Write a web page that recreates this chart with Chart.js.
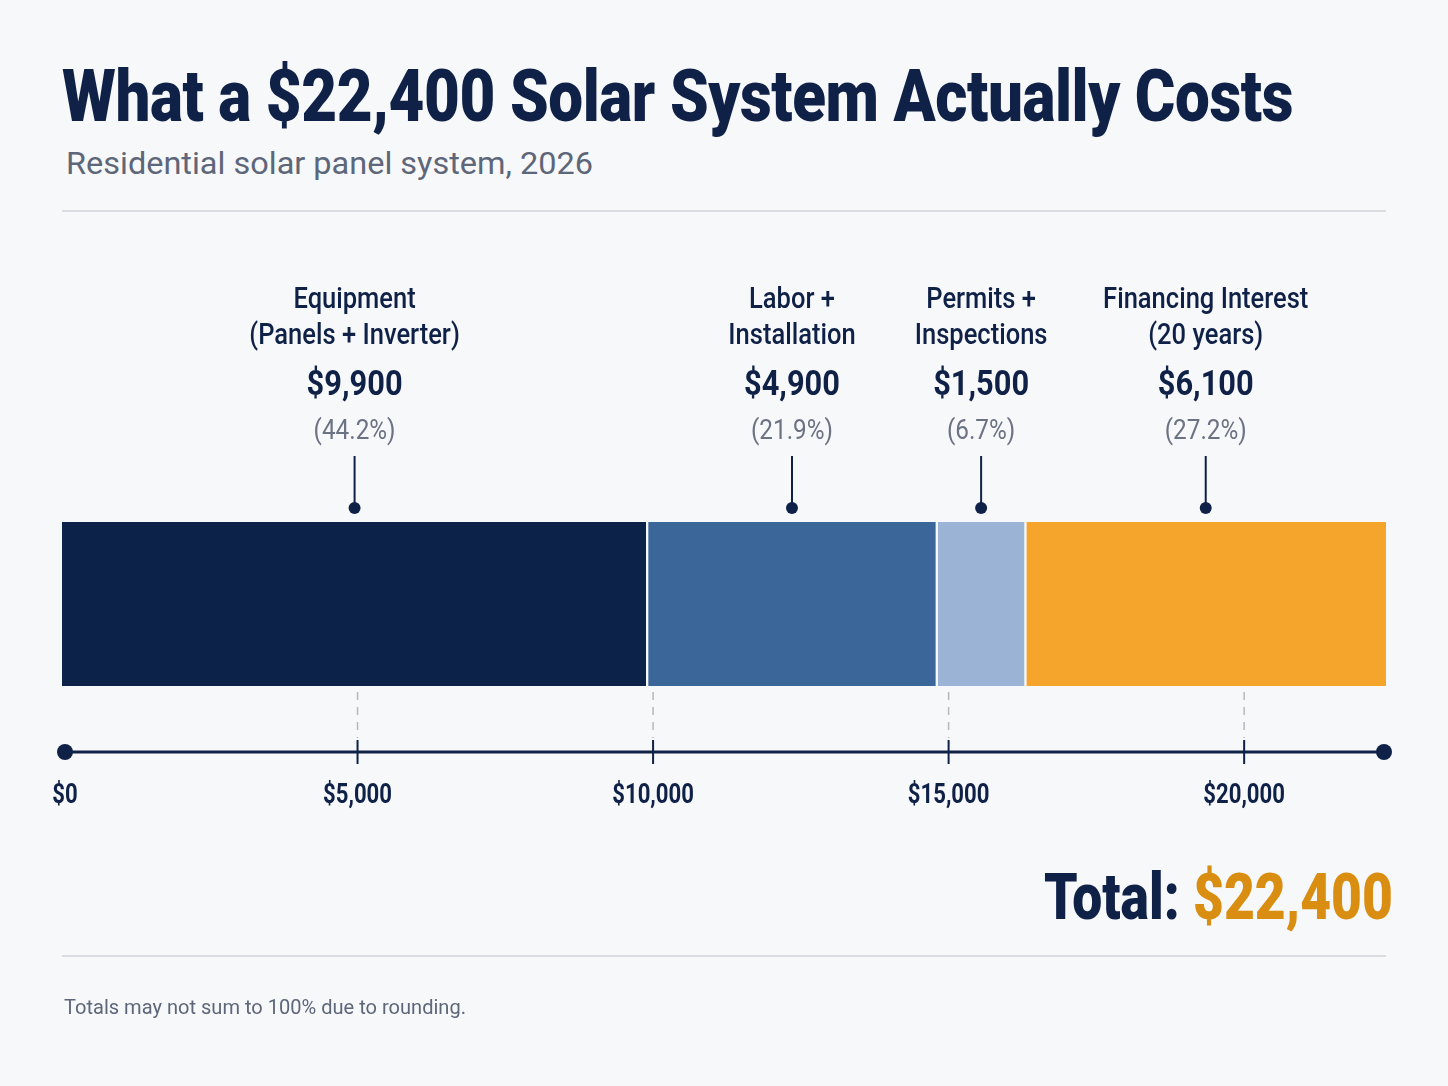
<!DOCTYPE html>
<html>
<head>
<meta charset="utf-8">
<script src="https://cdn.jsdelivr.net/npm/chart.js@4.4.1/dist/chart.umd.min.js"></script>
<style>
  html, body { margin: 0; padding: 0; }
  body {
    width: 1448px; height: 1086px; position: relative; overflow: hidden;
    background: #f7f8fa; font-family: Roboto, "Noto Sans", sans-serif;
  }
  #chartBox { position: absolute; left: 0; top: 0; width: 1448px; height: 1086px; }
  .fit { position: absolute; white-space: nowrap; transform-origin: left top; }
  #title { left: 62px; top: 61px; font-size: 72px; font-weight: 900; color: #0f2147; line-height: 1; letter-spacing: -0.5px; }
  #subtitle { left: 66px; top: 145px; font-size: 31px; color: #5e6679; line-height: 1.2; }
  #total { top: 866px; font-size: 64px; font-weight: 900; color: #0f2147; line-height: 1; }
  #total span { color: #d98e12; }
  #note { left: 64px; top: 995px; font-size: 20px; color: #5e6679; }
  .rule { position: absolute; left: 62px; width: 1324px; height: 2px; background: #d9dce1; }
</style>
</head>
<body>
<div id="title" class="fit">What a $22,400 Solar System Actually Costs</div>
<div id="subtitle" class="fit">Residential solar panel system, 2026</div>
<div class="rule" style="top:210px"></div>
<div id="chartBox"><canvas id="costChart"></canvas></div>
<div id="total" class="fit">Total: <span>$22,400</span></div>
<div class="rule" style="top:955px"></div>
<div id="note" class="fit">Totals may not sum to 100% due to rounding.</div>
<script>
const categoryLines = [
  ['Equipment', '(Panels + Inverter)'],
  ['Labor +', 'Installation'],
  ['Permits +', 'Inspections'],
  ['Financing Interest', '(20 years)']
];
const costs = [9900, 4900, 1500, 6100];
const shares = [44.2, 21.9, 6.7, 27.2];
const tickValues = [0, 5000, 10000, 15000, 20000];
const totalCost = 22400;

const segmentColors = ['#0c2248', '#3a6699', '#9bb4d6', '#f5a52b'];
const navy = '#0f2147';
const grey = '#6b7283';

function money(v) {
  return '$' + v.toLocaleString('en-US');
}

function squeezeText(ctx, text, x, y, font, color, squeeze, align) {
  ctx.save();
  ctx.font = font;
  ctx.fillStyle = color;
  ctx.textBaseline = 'middle';
  const w = ctx.measureText(text).width * squeeze;
  let left = x;
  if (align === 'center') left = x - w / 2;
  if (align === 'right') left = x - w;
  ctx.translate(left, y);
  ctx.scale(squeeze, 1);
  ctx.textAlign = 'left';
  ctx.fillText(text, 0, 0);
  ctx.restore();
}

const annotate = {
  id: 'annotate',
  afterDraw(chart) {
    const ctx = chart.ctx;
    const xs = chart.scales.x;
    const area = chart.chartArea;

    // labels above each segment
    chart.data.datasets.forEach((ds, i) => {
      const bar = chart.getDatasetMeta(i).data[0];
      const p = bar.getProps(['x', 'base'], true);
      const cx = (p.x + p.base) / 2;
      const lines = categoryLines[i];
      squeezeText(ctx, lines[0], cx, 301, '500 29px Roboto', navy, 0.88, 'center');
      squeezeText(ctx, lines[1], cx, 337, '500 29px Roboto', navy, 0.88, 'center');
      squeezeText(ctx, money(costs[i]), cx, 386, 'bold 35px Roboto', navy, 0.88, 'center');
      squeezeText(ctx, '(' + shares[i] + '%)', cx, 432, '27px Roboto', grey, 0.9, 'center');

      ctx.save();
      ctx.strokeStyle = navy;
      ctx.lineWidth = 2;
      ctx.beginPath();
      ctx.moveTo(cx, 456);
      ctx.lineTo(cx, 504);
      ctx.stroke();
      ctx.fillStyle = navy;
      ctx.beginPath();
      ctx.arc(cx, 508, 6, 0, Math.PI * 2);
      ctx.fill();
      ctx.restore();
    });

    // axis
    const axisY = 752;
    const x0 = xs.getPixelForValue(0) + 3;
    const x1 = xs.getPixelForValue(totalCost) - 2;
    ctx.save();
    ctx.strokeStyle = navy;
    ctx.fillStyle = navy;
    ctx.lineWidth = 3;
    ctx.beginPath();
    ctx.moveTo(x0, axisY);
    ctx.lineTo(x1, axisY);
    ctx.stroke();
    [x0, x1].forEach(x => {
      ctx.beginPath();
      ctx.arc(x, axisY, 8, 0, Math.PI * 2);
      ctx.fill();
    });

    tickValues.forEach(v => {
      const x = v === 0 ? x0 : xs.getPixelForValue(v);
      if (v > 0) {
        ctx.strokeStyle = '#b4b8bf';
        ctx.lineWidth = 1.5;
        ctx.setLineDash([8, 7]);
        ctx.beginPath();
        ctx.moveTo(x, area.bottom + 6);
        ctx.lineTo(x, axisY - 14);
        ctx.stroke();
        ctx.setLineDash([]);
        ctx.strokeStyle = navy;
        ctx.lineWidth = 2;
        ctx.beginPath();
        ctx.moveTo(x, axisY - 12);
        ctx.lineTo(x, axisY + 12);
        ctx.stroke();
      }
      squeezeText(ctx, money(v), x, 796, 'bold 27px Roboto', navy, 0.82, 'center');
    });
    ctx.restore();
  }
};

const datasets = categoryLines.map((lines, i) => ({
  label: lines.join(' '),
  data: [costs[i]],
  backgroundColor: segmentColors[i],
  borderColor: '#f7f8fa',
  borderWidth: { left: i === 0 ? 0 : 1.5, right: i === costs.length - 1 ? 0 : 1.5, top: 0, bottom: 0 },
  borderSkipped: false,
  barPercentage: 1,
  categoryPercentage: 1
}));

new Chart(document.getElementById('costChart'), {
  type: 'bar',
  data: { labels: ['Cost'], datasets: datasets },
  options: {
    indexAxis: 'y',
    responsive: true,
    maintainAspectRatio: false,
    animation: false,
    layout: { padding: { left: 62, right: 62, top: 522, bottom: 400 } },
    plugins: { legend: { display: false }, tooltip: { enabled: false } },
    scales: {
      x: { stacked: true, display: false, min: 0, max: totalCost, ticks: { stepSize: 5000 } },
      y: { stacked: true, display: false }
    }
  },
  plugins: [annotate]
});

// condense the big headline texts to the reference widths
function fitWidth(id, width, alignRight) {
  const el = document.getElementById(id);
  const w = el.getBoundingClientRect().width;
  const s = width / w;
  el.style.transform = 'scaleX(' + s + ')';
  if (alignRight) el.style.left = (alignRight - width) + 'px';
}
fitWidth('title', 1231);
fitWidth('subtitle', 527);
fitWidth('total', 349, 1393);
fitWidth('note', 402);
</script>
</body>
</html>
